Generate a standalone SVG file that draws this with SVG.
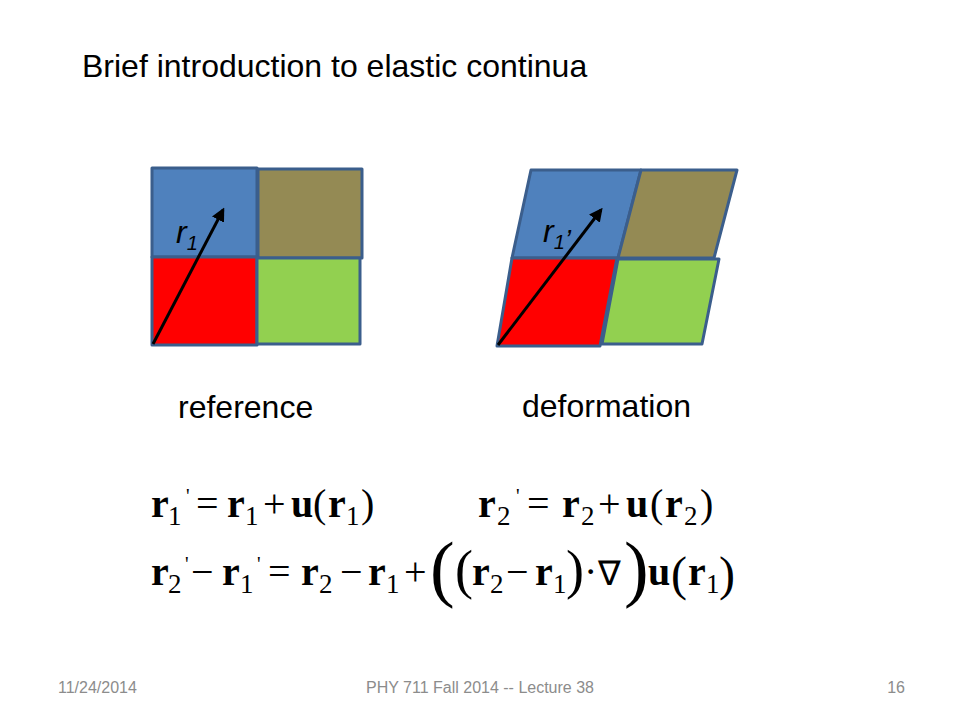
<svg xmlns="http://www.w3.org/2000/svg" width="960" height="720" viewBox="0 0 960 720">
<defs>
<style>
.cell{stroke:#3b5e8c;stroke-width:3;stroke-linejoin:round}
.blue{fill:#4f81bd}.brown{fill:#948a54}.red{fill:#ff0000}.green{fill:#92d050}
.arrow{stroke:#000;stroke-width:3;fill:none}
.sans{font-family:"Liberation Sans",Arial,sans-serif}
.title{font-size:32px;fill:#000}
.lbl{font-size:32px;font-style:italic;fill:#000}
.foot{font-size:16px;fill:#8c8c8c}
.eq{font-family:"Liberation Serif","Times New Roman",serif;font-size:40px;fill:#000}
.b{font-weight:bold}
.s{font-size:27px}
.p{font-size:20px}
.mid{font-size:54px}
.par{font-size:48px}
.big{font-size:74px}
</style>
<marker id="ah" viewBox="0 0 10 10" refX="8" refY="5" markerWidth="4.5" markerHeight="4.5" orient="auto" markerUnits="strokeWidth">
<path d="M0,0 L10,5 L0,10 z" fill="#000"/>
</marker>
</defs>
<rect width="960" height="720" fill="#fff"/>
<text class="sans title" x="82" y="77">Brief introduction to elastic continua</text>

<g id="reference">
<rect class="cell blue" x="152" y="168" width="105" height="89"/>
<rect class="cell brown" x="258" y="169" width="104" height="89"/>
<rect class="cell red" x="152" y="257" width="105" height="88"/>
<rect class="cell green" x="257" y="258" width="103" height="86"/>
</g>
<g id="deformation">
<polygon class="cell blue" points="531,170 641,170 618,258 512,258"/>
<polygon class="cell brown" points="641,170 737,170 714,258 618,258"/>
<polygon class="cell red" points="512,258 617,258 600,346 497,346"/>
<polygon class="cell green" points="618,259 719,259 702,344 602,344"/>
</g>
<g id="connectors">
<line class="arrow" x1="153" y1="344" x2="223" y2="210" marker-end="url(#ah)"/>
<line class="arrow" x1="498" y1="345" x2="601" y2="210" marker-end="url(#ah)"/>
</g>
<g id="labels">
<text class="sans lbl" x="176" y="243">r<tspan font-size="20" dy="7">1</tspan></text>
<text class="sans lbl" x="543" y="242">r<tspan font-size="20" dy="7">1</tspan><tspan font-size="28">’</tspan></text>
<text class="sans title" x="178" y="418">reference</text>
<text class="sans title" x="522" y="417">deformation</text>
</g>

<g id="equations" class="eq">
<text y="517"><tspan class="b" x="151">r</tspan><tspan class="s" x="168" y="525">1</tspan><tspan class="p" x="186" y="503">'</tspan><tspan x="196" y="517">=</tspan><tspan class="b" x="227">r</tspan><tspan class="s" x="245" y="525">1</tspan><tspan x="263" y="517">+</tspan><tspan class="b" x="291">u</tspan><tspan x="313">(</tspan><tspan class="b" x="328">r</tspan><tspan class="s" x="346" y="525">1</tspan><tspan x="361" y="517">)</tspan></text>
<text y="517"><tspan class="b" x="478">r</tspan><tspan class="s" x="497" y="525">2</tspan><tspan class="p" x="516" y="503">'</tspan><tspan x="527" y="517">=</tspan><tspan class="b" x="562">r</tspan><tspan class="s" x="581" y="525">2</tspan><tspan x="598" y="517">+</tspan><tspan class="b" x="626">u</tspan><tspan x="650">(</tspan><tspan class="b" x="665">r</tspan><tspan class="s" x="684" y="525">2</tspan><tspan x="700" y="517">)</tspan></text>
<text y="585"><tspan class="b" x="151">r</tspan><tspan class="s" x="168" y="593">2</tspan><tspan class="p" x="185" y="571">'</tspan><tspan x="191" y="585">−</tspan><tspan class="b" x="222">r</tspan><tspan class="s" x="240" y="593">1</tspan><tspan class="p" x="257" y="571">'</tspan><tspan x="268" y="585">=</tspan><tspan class="b" x="301">r</tspan><tspan class="s" x="319" y="593">2</tspan><tspan x="340" y="585">−</tspan><tspan class="b" x="368">r</tspan><tspan class="s" x="386" y="593">1</tspan><tspan x="404" y="585">+</tspan><tspan class="big" x="430" y="593">(</tspan><tspan class="mid" x="455" y="588">(</tspan><tspan class="b" x="472" y="585">r</tspan><tspan class="s" x="490" y="593">2</tspan><tspan x="506" y="585">−</tspan><tspan class="b" x="535">r</tspan><tspan class="s" x="553" y="593">1</tspan><tspan class="mid" x="566" y="588">)</tspan><tspan x="584" y="585">·</tspan><tspan font-size="34" x="598">∇</tspan><tspan class="big" x="624" y="593">)</tspan><tspan class="b" x="648" y="585">u</tspan><tspan class="par" x="671" y="590">(</tspan><tspan class="b" x="688" y="585">r</tspan><tspan class="s" x="706" y="593">1</tspan><tspan class="par" x="719" y="590">)</tspan></text>
</g>

<g id="footer" class="sans foot">
<text x="58" y="693">11/24/2014</text>
<text x="480" y="693" text-anchor="middle">PHY 711  Fall 2014 --  Lecture 38</text>
<text x="905" y="693" text-anchor="end">16</text>
</g>
</svg>
